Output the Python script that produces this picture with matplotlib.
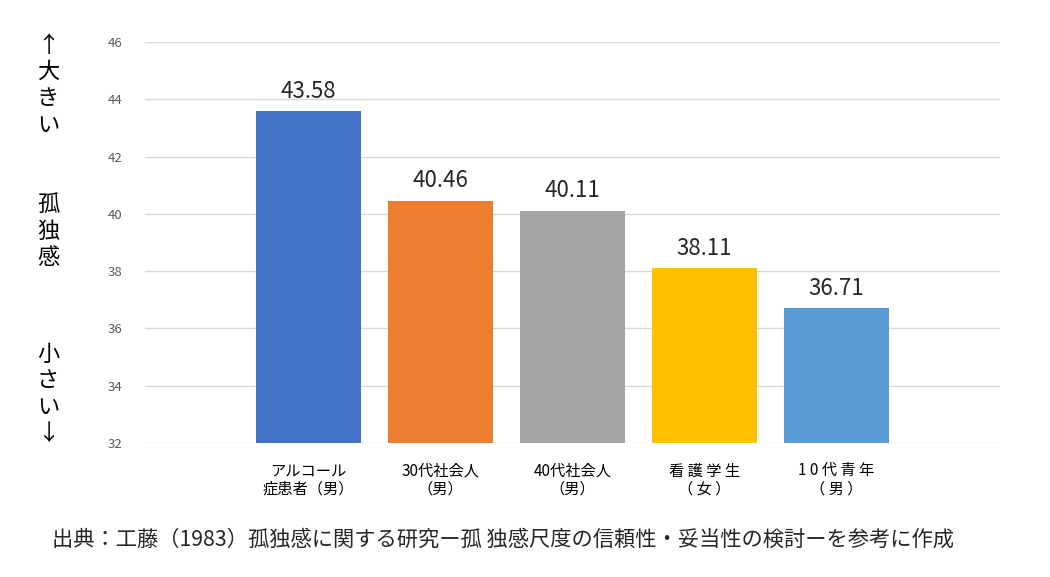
import matplotlib
matplotlib.use("Agg")
import matplotlib.pyplot as plt
import numpy as np

plt.rcParams['font.family'] = ['Noto Sans CJK JP', 'DejaVu Sans']

categories = ["アルコール\n症患者（男）", "30代社会人\n（男）", "40代社会人\n（男）",
              "看 護 学 生\n（ 女 ）", "1 0 代 青 年\n（ 男 ）"]
values = [43.58, 40.46, 40.11, 38.11, 36.71]
colors = ["#4472C4", "#ED7D31", "#A5A5A5", "#FFC000", "#5B9BD5"]
yticks = [32, 34, 36, 38, 40, 42, 44, 46]
source = "出典：工藤（1983）孤独感に関する研究ー孤 独感尺度の信頼性・妥当性の検討ーを参考に作成"

W, H = 1050, 577
fig = plt.figure(figsize=(W / 100, H / 100), dpi=100)
ax = fig.add_axes([145 / W, 1 - 443 / H, 855 / W, 401 / H])

x = np.arange(len(values))
bars = ax.bar(x, values, width=0.79, color=colors, bottom=0, zorder=3)
ax.set_ylim(32, 46)
ax.set_xlim(-1.24, len(values) - 1 + 1.24)
ax.set_yticks(yticks)
ax.set_xticks(x)
ax.set_xticklabels(categories, fontsize=11, linespacing=1.1)
ax.tick_params(axis='y', length=0, pad=16, labelsize=9.5, labelcolor="#595959")
ax.tick_params(axis='x', length=0, pad=14)
ax.grid(axis='y', color="#D9D9D9", lw=1, zorder=0)
for s in ax.spines.values():
    s.set_visible(False)

for xi, v in zip(x, values):
    ax.annotate(f"{v:.2f}", (xi, v), xytext=(0, 6), textcoords="offset points",
                ha="center", va="bottom", fontsize=16, color="#262626")

# vertical axis caption on the left
fig.text(48 / W, 1 - 85 / H, "↑\n大\nき\nい", ha="center", va="center", fontsize=16, linespacing=1.2)
fig.text(48 / W, 1 - 231 / H, "孤\n独\n感", ha="center", va="center", fontsize=16, linespacing=1.2)
fig.text(48 / W, 1 - 394 / H, "小\nさ\nい\n↓", ha="center", va="center", fontsize=16, linespacing=1.2)

fig.text(52 / W, 1 - 540 / H, source, ha="left", va="center", fontsize=15.3, color="#262626")

fig.savefig("out.png", dpi=100)
